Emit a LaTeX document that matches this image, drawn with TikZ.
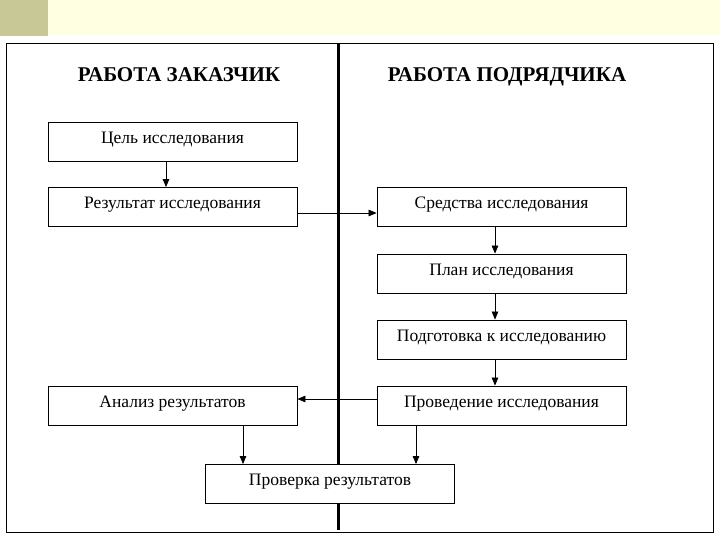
\documentclass[tikz,border=0pt]{standalone}
\usepackage{fontspec}
\setmainfont{Liberation Serif}
\usetikzlibrary{arrows.meta}
\definecolor{bandyellow}{RGB}{255,255,226}
\definecolor{bandkhaki}{RGB}{200,200,150}
\tikzset{
  stepbox/.style={draw, fill=white, line width=0.8pt, minimum width=249pt, minimum height=39pt,
    inner sep=0pt, font=\fontsize{17.5}{19}\selectfont, text depth=8pt},
  headtext/.style={anchor=base, font=\bfseries\fontsize{21}{23}\selectfont},
  flow/.style={line width=0.7pt, -{Triangle[length=8pt,width=6.5pt]}}
}
\begin{document}
\begin{tikzpicture}[x=1pt,y=-1pt]
\useasboundingbox (0,0) rectangle (720,540);
\fill [bandyellow] (0,0) rectangle (720,35);
\fill [bandkhaki] (0,0) rectangle (48,36);
\draw [line width=0.8pt] (6,43) rectangle (713,532);
\draw [line width=3pt] (338,43)--(338,530);
% заголовки
\node [headtext] (hleft) at (179,82) {РАБОТА ЗАКАЗЧИК};
\node [headtext] (hright) at (507,82) {РАБОТА ПОДРЯДЧИКА};
% блоки
\node [stepbox] (goal) at (172.5,141.5) {Цель исследования};
\node [stepbox] (result) at (172.5,207) {Результат исследования};
\node [stepbox] (means) at (501.5,207) {Средства исследования};
\node [stepbox] (plan) at (501.5,273.5) {План исследования};
\node [stepbox] (prep) at (501.5,339.5) {Подготовка к исследованию};
\node [stepbox] (conduct) at (501.5,405.5) {Проведение исследования};
\node [stepbox] (analysis) at (172.5,405.5) {Анализ результатов};
\node [stepbox] (check) at (330,484) {Проверка результатов};
% стрелки
\draw [flow] (goal.south-|166,0)--(result.north-|166,0);
\draw [flow] (result.east|-0,213)--(means.west|-0,213);
\draw [flow] (means.south-|495,0)--(plan.north-|495,0);
\draw [flow] (plan.south-|495,0)--(prep.north-|495,0);
\draw [flow] (prep.south-|495,0)--(conduct.north-|495,0);
\draw [flow] (conduct.west|-0,399)--(analysis.east|-0,399);
\draw [flow] (analysis.south-|243,0)--(check.north-|243,0);
\draw [flow] (conduct.south-|416,0)--(check.north-|416,0);
\end{tikzpicture}
\end{document}
